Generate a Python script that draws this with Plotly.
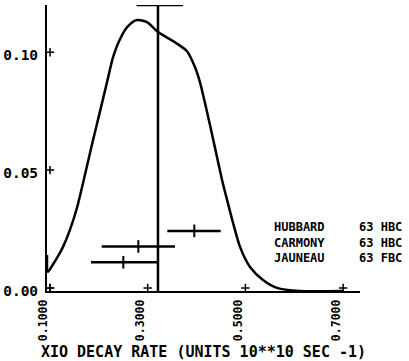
import plotly.graph_objects as go

# ---- data ----
curve_x = [0.1000, 0.1020, 0.1102, 0.1205, 0.1328, 0.1471, 0.1614, 0.1778, 0.1921,
           0.2085, 0.2228, 0.2351, 0.2494, 0.2658, 0.2842, 0.3047, 0.3272, 0.3579,
           0.3866, 0.4030, 0.4132, 0.4357, 0.4582, 0.4685, 0.4808, 0.4951, 0.5155,
           0.5422, 0.5708, 0.6179, 0.7059]
curve_y = [0.0153, 0.0081, 0.0106, 0.0140, 0.0187, 0.0260, 0.0353, 0.0494, 0.0621,
           0.0762, 0.0885, 0.0991, 0.1068, 0.1123, 0.1149, 0.1140, 0.1098, 0.1060,
           0.1017, 0.0949, 0.0885, 0.0685, 0.0472, 0.0387, 0.0289, 0.0187, 0.0102,
           0.0047, 0.0013, 0.0000, 0.0000]

experiments = ["HUBBARD", "CARMONY", "JAUNEAU"]
references = ["63 HBC", "63 HBC", "63 FBC"]
meas_x = [0.4015, 0.2869, 0.2562]
meas_lo = [0.3463, 0.2120, 0.1901]
meas_hi = [0.4556, 0.3620, 0.3278]
meas_y = [0.0255, 0.0189, 0.0122]

avg_x = 0.3272
avg_lo = 0.2832
avg_hi = 0.3784
avg_top = 0.1213

x_ticks = [0.1, 0.3, 0.5, 0.7]
y_ticks = [0.00, 0.05, 0.10]
x_range = [0.1, 0.7407]
y_range = [0.0, 0.1213]

x_title = "XIO DECAY RATE (UNITS 10**10 SEC -1)"

FONT = "DejaVu Sans Mono"
ink = "black"

fig = go.Figure()

# smooth curve
fig.add_trace(go.Scatter(x=curve_x, y=curve_y, mode="lines",
                         line=dict(color=ink, width=2.5, shape="spline", smoothing=0.7),
                         hoverinfo="skip", showlegend=False))

# average marker (vertical line with top cap)
fig.add_trace(go.Scatter(x=[avg_x, avg_x], y=[0, avg_top], mode="lines",
                         line=dict(color=ink, width=2.5), showlegend=False, cliponaxis=False))
fig.add_trace(go.Scatter(x=[avg_lo, avg_hi], y=[avg_top, avg_top], mode="lines",
                         line=dict(color=ink, width=2.5), showlegend=False, cliponaxis=False))

# measurements with horizontal error bars
fig.add_trace(go.Scatter(
    x=meas_x, y=meas_y, mode="markers",
    marker=dict(symbol="line-ns", size=9, color=ink, line=dict(color=ink, width=2)),
    error_x=dict(type="data", symmetric=False,
                 array=[h - x for h, x in zip(meas_hi, meas_x)],
                 arrayminus=[x - l for x, l in zip(meas_x, meas_lo)],
                 color=ink, thickness=2.5, width=0),
    showlegend=False))

# plus-shaped tick marks (plotter style, slightly offset up/right)
px_per_x = 313 / (x_range[1] - x_range[0])
px_per_y = 286 / (y_range[1] - y_range[0])
dx = 3 / px_per_x
dy = 3 / px_per_y
fig.add_trace(go.Scatter(
    x=[t + dx for t in x_ticks] + [x_range[0] + dx] * len(y_ticks),
    y=[dy] * len(x_ticks) + [t + dy for t in y_ticks],
    mode="markers", cliponaxis=False,
    marker=dict(symbol="cross-thin", size=6, color=ink, line=dict(color=ink, width=1.5)),
    showlegend=False, hoverinfo="skip"))

# legend text (two aligned columns)
legend_font = dict(family=FONT, size=12, color=ink, weight="bold")
fig.add_annotation(x=0.722, y=0.252, xref="paper", yref="paper",
                   text="<br>".join(experiments), align="left",
                   showarrow=False, xanchor="left", yanchor="top",
                   borderpad=0, font=legend_font)
fig.add_annotation(x=0.9936, y=0.252, xref="paper", yref="paper",
                   text="<br>".join(references), align="left",
                   showarrow=False, xanchor="left", yanchor="top",
                   borderpad=0, font=legend_font)

fig.update_layout(
    width=409, height=361,
    margin=dict(l=47, r=49, t=5, b=70, autoexpand=False),
    paper_bgcolor="white", plot_bgcolor="white",
    xaxis=dict(range=x_range, showline=True, linecolor=ink, linewidth=2,
               showgrid=False, zeroline=False, ticks="", automargin=False,
               tickvals=x_ticks, tickformat=".4f", tickangle=-90,
               ticklabelshift=-4, ticklabelstandoff=2,
               tickfont=dict(family=FONT, size=11.5, color=ink, weight="bold"),
               title=dict(text=x_title, standoff=6,
                          font=dict(family=FONT, size=15, color=ink, weight="bold"))),
    yaxis=dict(range=y_range, showline=True, linecolor=ink, linewidth=2,
               showgrid=False, zeroline=False, ticks="", automargin=False,
               tickvals=y_ticks, tickformat=".2f",
               ticklabelshift=0, ticklabelstandoff=4,
               tickfont=dict(family=FONT, size=14.5, color=ink, weight="bold")),
)

fig.write_html("out.html")
